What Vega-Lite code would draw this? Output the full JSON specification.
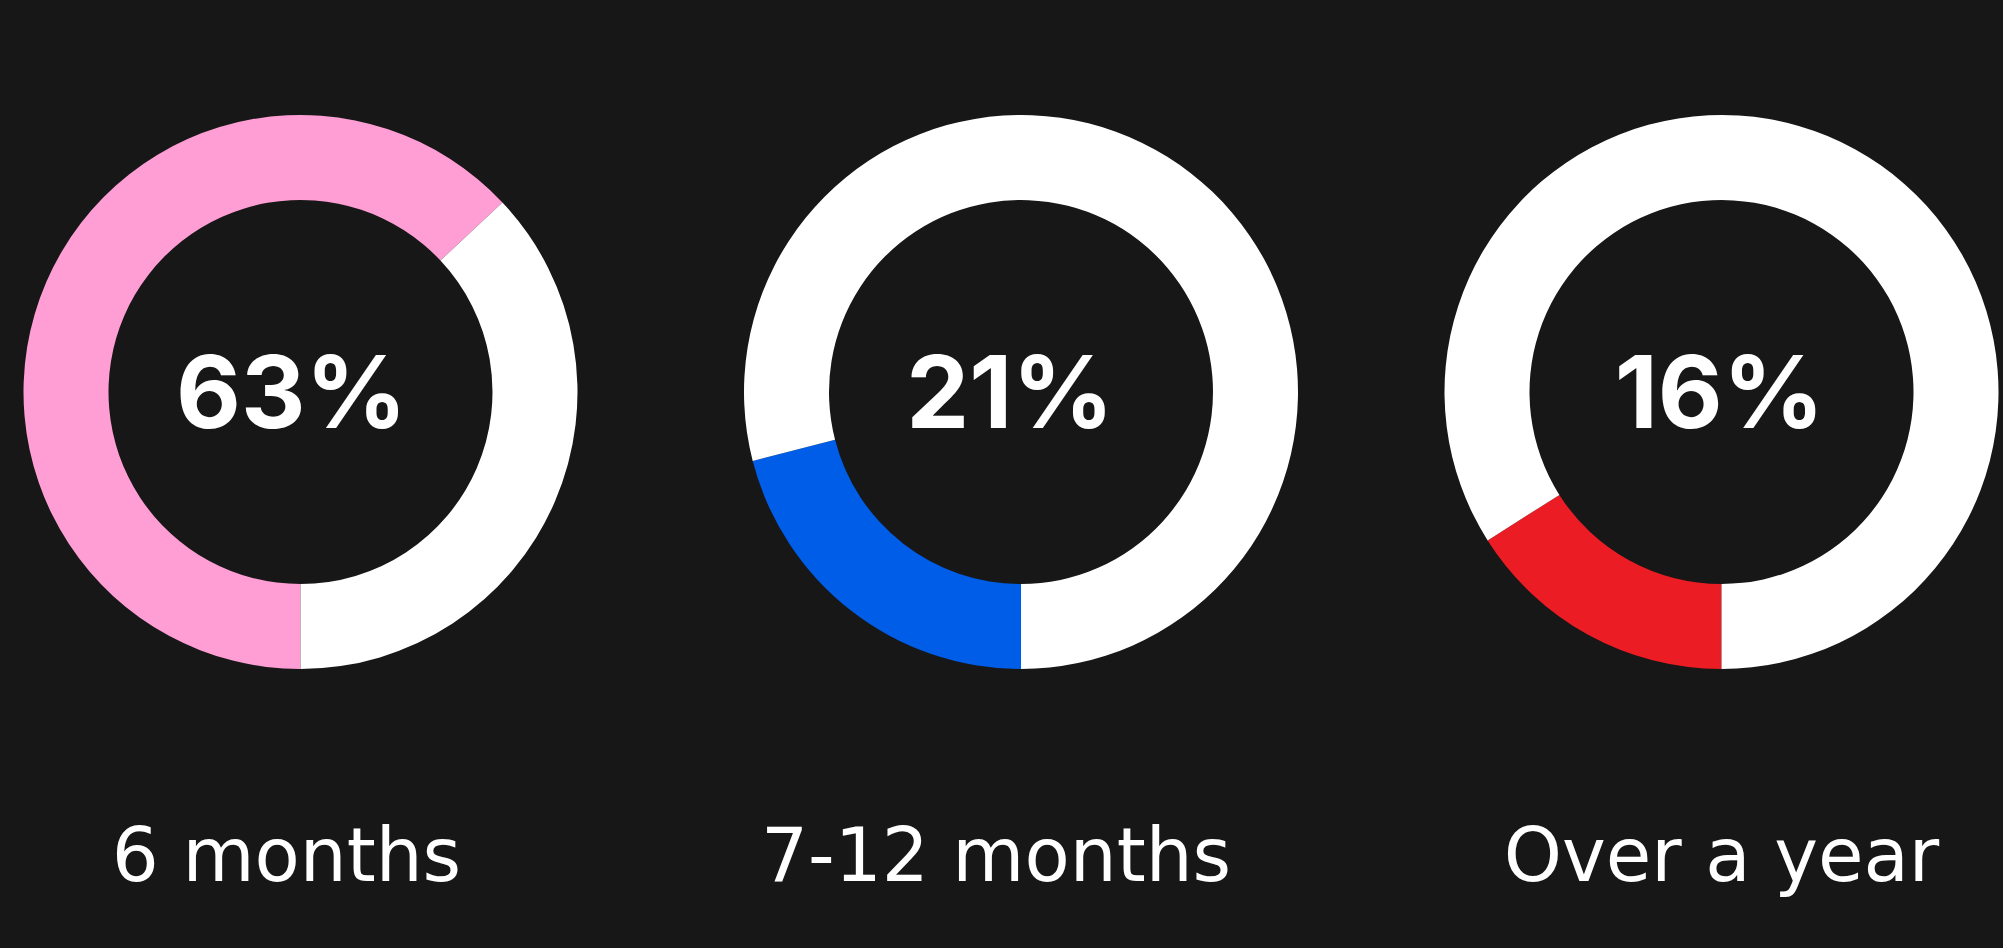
{
  "$schema": "https://vega.github.io/schema/vega-lite/v6.json",
  "background": "#171717",
  "padding": {"left": 0, "top": 0, "right": 1, "bottom": 54},
  "spacing": 0,
  "config": {
    "view": {"stroke": null},
    "concat": {"spacing": 0},
    "font": "Inter"
  },
  "resolve": {"scale": {"color": "independent", "theta": "independent"}},
  "datasets": {
    "shares": [
      {"period": "6 months", "segment": "share", "value": 0.63},
      {"period": "6 months", "segment": "rest", "value": 0.37},
      {"period": "7-12 months", "segment": "share", "value": 0.21},
      {"period": "7-12 months", "segment": "rest", "value": 0.79},
      {"period": "Over a year", "segment": "share", "value": 0.16},
      {"period": "Over a year", "segment": "rest", "value": 0.84}
    ]
  },
  "hconcat": [
    {
      "width": 601,
      "height": 784,
      "data": {"name": "shares"},
      "transform": [{"filter": "datum.period === '6 months'"}],
      "title": {"text": "6 months", "orient": "bottom", "anchor": "middle", "baseline": "alphabetic", "offset": 97, "dx": -14, "font": "DejaVu Sans", "fontSize": 74, "fontWeight": 400, "color": "#ffffff"},
      "layer": [
        {
          "mark": {"type": "arc", "radius": 277, "radius2": 192},
          "encoding": {
            "theta": {"field": "value", "type": "quantitative", "stack": true, "scale": {"range": [3.14159265, 9.42477796]}},
            "order": {"field": "segment", "sort": "descending"},
            "color": {"field": "segment", "type": "nominal", "scale": {"domain": ["share", "rest"], "range": ["#FF9ED5", "#FFFFFF"]}, "legend": null}
          }
        },
        {
          "transform": [{"filter": "datum.segment === 'share'"}],
          "mark": {"type": "text", "font": "Inter", "fontWeight": 700, "fontSize": 100, "color": "#ffffff", "align": "center", "baseline": "middle", "dy": 6, "dx": -9},
          "encoding": {"text": {"field": "value", "type": "quantitative", "format": ".0%"}}
        }
      ]
    },
    {
      "width": 840,
      "height": 784,
      "data": {"name": "shares"},
      "transform": [{"filter": "datum.period === '7-12 months'"}],
      "title": {"text": "7-12 months", "orient": "bottom", "anchor": "middle", "baseline": "alphabetic", "offset": 97, "dx": -25, "font": "DejaVu Sans", "fontSize": 74, "fontWeight": 400, "color": "#ffffff"},
      "layer": [
        {
          "mark": {"type": "arc", "radius": 277, "radius2": 192},
          "encoding": {
            "theta": {"field": "value", "type": "quantitative", "stack": true, "scale": {"range": [3.14159265, 9.42477796]}},
            "order": {"field": "segment", "sort": "descending"},
            "color": {"field": "segment", "type": "nominal", "scale": {"domain": ["share", "rest"], "range": ["#005DE8", "#FFFFFF"]}, "legend": null}
          }
        },
        {
          "transform": [{"filter": "datum.segment === 'share'"}],
          "mark": {"type": "text", "font": "Inter", "fontWeight": 700, "fontSize": 100, "color": "#ffffff", "align": "center", "baseline": "middle", "dy": 6, "dx": -11},
          "encoding": {"text": {"field": "value", "type": "quantitative", "format": ".0%"}}
        }
      ]
    },
    {
      "width": 561,
      "height": 784,
      "data": {"name": "shares"},
      "transform": [{"filter": "datum.period === 'Over a year'"}],
      "title": {"text": "Over a year", "orient": "bottom", "anchor": "middle", "baseline": "alphabetic", "offset": 97, "font": "DejaVu Sans", "fontSize": 74, "fontWeight": 400, "color": "#ffffff"},
      "layer": [
        {
          "mark": {"type": "arc", "radius": 277, "radius2": 192},
          "encoding": {
            "theta": {"field": "value", "type": "quantitative", "stack": true, "scale": {"range": [3.14159265, 9.42477796]}},
            "order": {"field": "segment", "sort": "descending"},
            "color": {"field": "segment", "type": "nominal", "scale": {"domain": ["share", "rest"], "range": ["#EC1C24", "#FFFFFF"]}, "legend": null}
          }
        },
        {
          "transform": [{"filter": "datum.segment === 'share'"}],
          "mark": {"type": "text", "font": "Inter", "fontWeight": 700, "fontSize": 100, "color": "#ffffff", "align": "center", "baseline": "middle", "dy": 6, "dx": -2},
          "encoding": {"text": {"field": "value", "type": "quantitative", "format": ".0%"}}
        }
      ]
    }
  ]
}
